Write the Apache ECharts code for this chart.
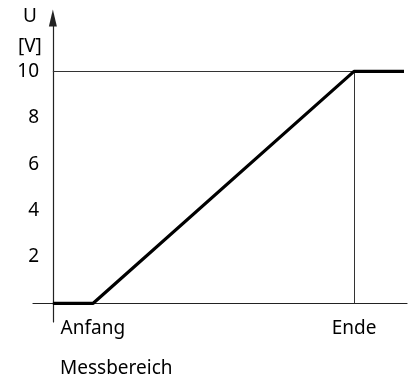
<!DOCTYPE html>
<html>
<head>
<meta charset="utf-8">
<script src="https://cdn.jsdelivr.net/npm/echarts@6/dist/echarts.min.js"></script>
<style>
  html, body { margin: 0; padding: 0; background: #fff; }
  #chart { width: 409px; height: 378px; }
</style>
</head>
<body>
<div id="chart"></div>
<script>
// Kennlinie: Ausgangsspannung über dem Messbereich
const linePosX = [0, 13.3, 100, 116.6];   // Anfang = 0, Ende = 100
const lineU = [0, 0, 10, 10];
const uTicks = [2, 4, 6, 8, 10];
const rangeTicks = [0, 100];
const rangeLabels = ['Anfang', 'Ende'];
const rangeStart = 0;
const rangeEnd = 100;
const uMax = 10;

const font = '"Noto Sans", "Open Sans", sans-serif';

const chart = echarts.init(document.getElementById('chart'));
chart.setOption({
  animation: false,
  title: {
    text: 'Messbereich',
    left: 55,
    top: 354,
    textStyle: { fontFamily: font, fontSize: 19, fontWeight: 'normal', color: '#000' }
  },
  grid: { left: 33, right: 2, top: 18, bottom: 56, outerBoundsMode: 'none' },
  xAxis: {
    type: 'value',
    min: -6.6,
    max: 117.6,
    splitLine: { show: false },
    axisLine: { onZero: true, lineStyle: { color: '#222', width: 1.2 } },
    axisTick: { show: false },
    axisLabel: {
      customValues: rangeTicks,
      margin: -3,
      fontFamily: font,
      fontSize: 19,
      color: '#000',
      formatter: (v) => v === rangeStart ? '{a|' + rangeLabels[0] + '}' : rangeLabels[1],
      rich: { a: { fontFamily: font, fontSize: 19, color: '#000', padding: [0, 0, 0, 80] } }
    }
  },
  yAxis: {
    type: 'value',
    min: -0.8,
    max: 12.3,
    name: 'U\n[V]',
    nameLocation: 'end',
    nameGap: -46,
    nameTextStyle: { fontFamily: font, fontSize: 19, color: '#000', align: 'center', padding: [0, 46, 0, 0], lineHeight: 30 },
    splitLine: { show: false },
    axisLine: {
      onZero: true,
      symbol: ['none', 'triangle'],
      symbolSize: [8, 17],
      lineStyle: { color: '#222', width: 1.2 }
    },
    axisTick: { show: false },
    axisLabel: {
      customValues: uTicks,
      margin: -6,
      fontFamily: font,
      fontSize: 19,
      color: '#000'
    }
  },
  series: [{
    type: 'line',
    data: linePosX.map((x, i) => [x, lineU[i]]),
    symbol: 'none',
    lineStyle: { color: '#000', width: 3.2 },
    z: 5,
    markLine: {
      silent: true,
      symbol: 'none',
      label: { show: false },
      lineStyle: { color: '#333', width: 1, type: 'solid' },
      data: [
        [{ coord: [rangeStart, uMax] }, { coord: [rangeEnd, uMax] }],
        [{ coord: [rangeEnd, 0] }, { coord: [rangeEnd, uMax] }]
      ]
    }
  }]
});
</script>
</body>
</html>
